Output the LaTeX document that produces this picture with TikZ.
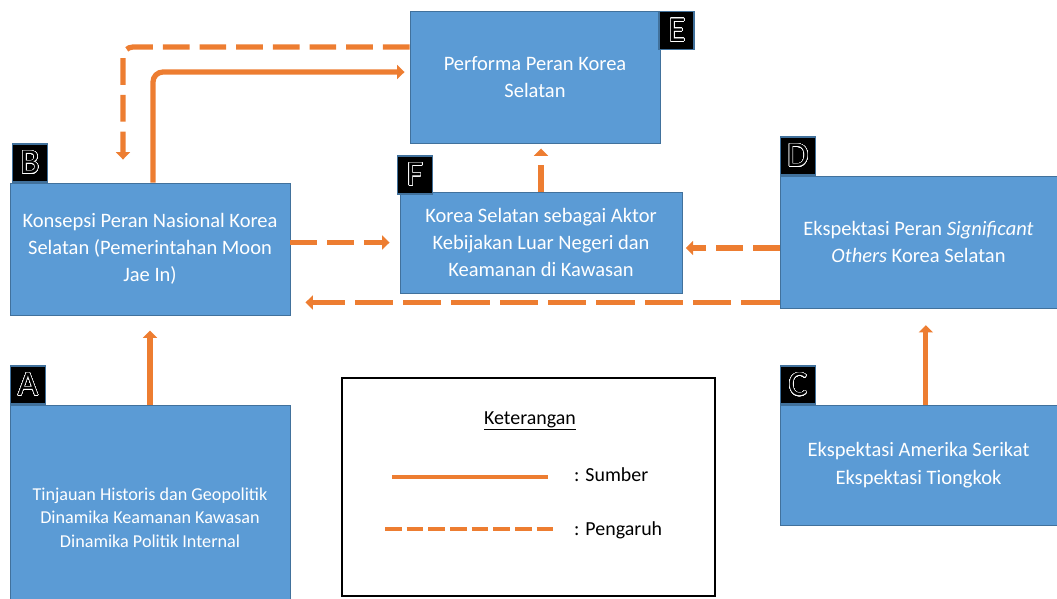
\documentclass[tikz,border=0pt]{standalone}
\usepackage{fontspec}
\setmainfont{Carlito}
\usepackage{contour}
\contourlength{0.45pt}
\contournumber{32}
\usetikzlibrary{arrows.meta}

\definecolor{boxblue}{HTML}{5B9BD5}
\definecolor{boxline}{HTML}{41719C}
\definecolor{arroworange}{HTML}{ED7D31}

\begin{document}
\begin{tikzpicture}
  [box/.style={draw=boxline,fill=boxblue,text=white,align=center,line width=0.8pt,
     font=\fontsize{17.5}{23}\selectfont},
   badge/.style={draw=boxline,fill=black,line width=1.6pt,minimum width=1.05cm,
     minimum height=1.14cm,inner sep=0pt,font=\fontsize{30}{30}\selectfont},
   src/.style={draw=arroworange,line width=4.5pt,-{Triangle[length=0.22cm,width=0.42cm]}},
   infl/.style={src,dash pattern=on 0.8cm off 0.3cm}]
  \useasboundingbox (0,0) rectangle (31.71,-17.94);

  % boxes
  \node[box,minimum width=8.4cm,minimum height=6.75cm,font=\fontsize{15.5}{20}\selectfont] (A) at (4.5,-15.525)
    {Tinjauan Historis dan Geopolitik\\Dinamika Keamanan Kawasan\\Dinamika Politik Internal};
  \node[box,minimum width=8.4cm,minimum height=3.96cm] (B) at (4.5,-7.47)
    {Konsepsi Peran Nasional Korea\\Selatan (Pemerintahan Moon\\Jae In)};
  \node[box,minimum width=8.31cm,minimum height=3.6cm,font=\fontsize{17.5}{24.5}\selectfont] (C) at (27.555,-13.95)
    {Ekspektasi Amerika Serikat\\Ekspektasi Tiongkok};
  \node[box,minimum width=8.31cm,minimum height=3.96cm] (D) at (27.555,-7.26)
    {Ekspektasi Peran \textit{Significant}\\\textit{Others} Korea Selatan};
  \node[box,minimum width=7.5cm,minimum height=3.96cm] (E) at (16.05,-2.31)
    {Performa Peran Korea\\Selatan};
  \node[box,minimum width=8.46cm,minimum height=3.03cm] (F) at (16.23,-7.275)
    {Korea Selatan sebagai Aktor\\Kebijakan Luar Negeri dan\\Keamanan di Kawasan};

  % letters
  \node[badge,anchor=south west] (bA) at (A.north west) {\contour{white}{A}};
  \node[badge,anchor=south west] (bB) at ([xshift=0.06cm]B.north west) {\contour{white}{B}};
  \node[badge,anchor=south west] (bC) at (C.north west) {\contour{white}{C}};
  \node[badge,anchor=south west] (bD) at (D.north west) {\contour{white}{D}};
  \node[badge,anchor=north west] (bE) at ([xshift=-0.06cm]E.north east) {\contour{white}{E}};
  \node[badge,anchor=south west] (bF) at ([shift={(-0.09,-0.09)}]F.north west) {\contour{white}{F}};

  % sources
  \draw[src,shorten >=0.45cm] (A.north) -- (B.south);
  \draw[src,shorten >=0.5cm] ([xshift=0.22cm]C.north) -- ([xshift=0.22cm]D.south);
  \draw[src,rounded corners=0.3cm,shorten >=0.15cm] ([xshift=0.09cm]B.north) |- ([yshift=0.15cm]E.west);

  % influences
  \draw[infl,rounded corners=0.3cm,shorten >=0.69cm] ([yshift=0.9cm]E.west) -| ([xshift=-0.81cm]B.north);
  \draw[infl,shorten >=0.3cm] (B.east |- F.west) -- (F.west);
  \draw[infl,shorten >=0.1cm] ([yshift=-0.18cm]D.west) -- ([yshift=-0.18cm]D.west -| F.east);
  \draw[infl,dash pattern=on 1.15cm off 0.3cm,shorten >=0.45cm] ([yshift=0.18cm]D.south west) -- ([yshift=0.18cm]D.south west -| B.east);
  \draw[infl,shorten >=0.15cm] (F.north) -- (F.north |- E.south);

  % legend
  \node[draw=black,line width=1.5pt,minimum width=11.19cm,minimum height=6.54cm] (legend) at (15.855,-14.61) {};
  \node[font=\fontsize{17}{20}\selectfont] (key) at (15.9,-12.63) {\underline{Keterangan}};
  \coordinate (s1) at (11.76,-14.31);
  \coordinate (s2) at (16.44,-14.31);
  \coordinate (p1) at (11.55,-15.87);
  \coordinate (p2) at (16.74,-15.87);
  \draw[arroworange,line width=3.5pt] (s1) -- (s2);
  \draw[arroworange,line width=3.5pt,dash pattern=on 0.5cm off 0.15cm] (p1) -- (p2);
  \node[anchor=west,font=\fontsize{17}{20}\selectfont] (sumber) at (17.1,-14.25) {: Sumber};
  \node[anchor=west,font=\fontsize{17}{20}\selectfont] (pengaruh) at (17.1,-15.9) {: Pengaruh};
\end{tikzpicture}
\end{document}
